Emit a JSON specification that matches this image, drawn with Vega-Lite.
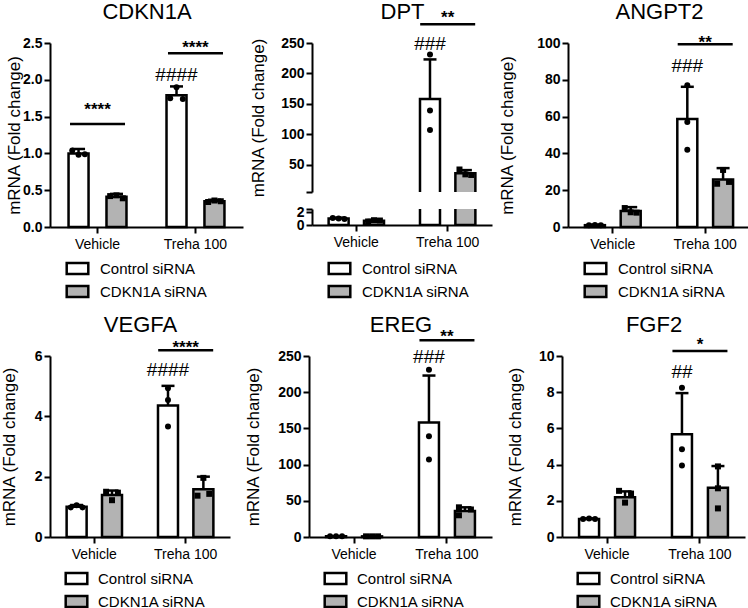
{
"$schema":"https://vega.github.io/schema/vega-lite/v6.json",
"background":"white",
"padding":{"left":0,"top":0,"right":0,"bottom":0},
"datasets":{
"bars":[
{"gene":"CDKN1A","cond":"Vehicle","grp":"Control siRNA","slot":"C2","mean":1.0,"upper":1.06},
{"gene":"CDKN1A","cond":"Vehicle","grp":"CDKN1A siRNA","slot":"K2","mean":0.41,"upper":0.45},
{"gene":"CDKN1A","cond":"Treha 100","grp":"Control siRNA","slot":"C2","mean":1.79,"upper":1.91},
{"gene":"CDKN1A","cond":"Treha 100","grp":"CDKN1A siRNA","slot":"K2","mean":0.35,"upper":0.37},
{"gene":"DPT","cond":"Vehicle","grp":"Control siRNA","slot":"C2","mean":1.0,"upper":1.15},
{"gene":"DPT","cond":"Vehicle","grp":"CDKN1A siRNA","slot":"K2","mean":0.65,"upper":0.78},
{"gene":"DPT","cond":"Treha 100","grp":"Control siRNA","slot":"C2","mean":158,"upper":223},
{"gene":"DPT","cond":"Treha 100","grp":"CDKN1A siRNA","slot":"K2","mean":36,"upper":41},
{"gene":"ANGPT2","cond":"Vehicle","grp":"Control siRNA","slot":"C2","mean":1.0,"upper":1.3},
{"gene":"ANGPT2","cond":"Vehicle","grp":"CDKN1A siRNA","slot":"K2","mean":8.7,"upper":10.8},
{"gene":"ANGPT2","cond":"Treha 100","grp":"Control siRNA","slot":"C2","mean":58.7,"upper":76.2},
{"gene":"ANGPT2","cond":"Treha 100","grp":"CDKN1A siRNA","slot":"K2","mean":25.8,"upper":32},
{"gene":"VEGFA","cond":"Vehicle","grp":"Control siRNA","slot":"C2","mean":1.0,"upper":1.06},
{"gene":"VEGFA","cond":"Vehicle","grp":"CDKN1A siRNA","slot":"K2","mean":1.39,"upper":1.54},
{"gene":"VEGFA","cond":"Treha 100","grp":"Control siRNA","slot":"C2","mean":4.36,"upper":5.01},
{"gene":"VEGFA","cond":"Treha 100","grp":"CDKN1A siRNA","slot":"K2","mean":1.58,"upper":2.0},
{"gene":"EREG","cond":"Vehicle","grp":"Control siRNA","slot":"C2","mean":1.0,"upper":1.1},
{"gene":"EREG","cond":"Vehicle","grp":"CDKN1A siRNA","slot":"K2","mean":0.9,"upper":1.0},
{"gene":"EREG","cond":"Treha 100","grp":"Control siRNA","slot":"C2","mean":158,"upper":223},
{"gene":"EREG","cond":"Treha 100","grp":"CDKN1A siRNA","slot":"K2","mean":36,"upper":41},
{"gene":"FGF2","cond":"Vehicle","grp":"Control siRNA","slot":"C2","mean":1.0,"upper":1.03},
{"gene":"FGF2","cond":"Vehicle","grp":"CDKN1A siRNA","slot":"K2","mean":2.2,"upper":2.52},
{"gene":"FGF2","cond":"Treha 100","grp":"Control siRNA","slot":"C2","mean":5.68,"upper":7.95},
{"gene":"FGF2","cond":"Treha 100","grp":"CDKN1A siRNA","slot":"K2","mean":2.72,"upper":3.92}
],
"points":[
{"gene":"CDKN1A","cond":"Vehicle","grp":"Control siRNA","slot":"C1","val":1.04},
{"gene":"CDKN1A","cond":"Vehicle","grp":"Control siRNA","slot":"C2","val":0.98},
{"gene":"CDKN1A","cond":"Vehicle","grp":"Control siRNA","slot":"C3","val":0.99},
{"gene":"CDKN1A","cond":"Vehicle","grp":"CDKN1A siRNA","slot":"K1","val":0.42},
{"gene":"CDKN1A","cond":"Vehicle","grp":"CDKN1A siRNA","slot":"K2","val":0.43},
{"gene":"CDKN1A","cond":"Vehicle","grp":"CDKN1A siRNA","slot":"K3","val":0.39},
{"gene":"CDKN1A","cond":"Treha 100","grp":"Control siRNA","slot":"C1","val":1.75},
{"gene":"CDKN1A","cond":"Treha 100","grp":"Control siRNA","slot":"C2","val":1.9},
{"gene":"CDKN1A","cond":"Treha 100","grp":"Control siRNA","slot":"C3","val":1.74},
{"gene":"CDKN1A","cond":"Treha 100","grp":"CDKN1A siRNA","slot":"K1","val":0.34},
{"gene":"CDKN1A","cond":"Treha 100","grp":"CDKN1A siRNA","slot":"K2","val":0.36},
{"gene":"CDKN1A","cond":"Treha 100","grp":"CDKN1A siRNA","slot":"K3","val":0.35},
{"gene":"DPT","cond":"Vehicle","grp":"Control siRNA","slot":"C1","val":1.1},
{"gene":"DPT","cond":"Vehicle","grp":"Control siRNA","slot":"C2","val":1.0},
{"gene":"DPT","cond":"Vehicle","grp":"Control siRNA","slot":"C3","val":0.95},
{"gene":"DPT","cond":"Vehicle","grp":"CDKN1A siRNA","slot":"K1","val":0.55},
{"gene":"DPT","cond":"Vehicle","grp":"CDKN1A siRNA","slot":"K2","val":0.75},
{"gene":"DPT","cond":"Vehicle","grp":"CDKN1A siRNA","slot":"K3","val":0.7},
{"gene":"DPT","cond":"Treha 100","grp":"Control siRNA","slot":"C2","val":231},
{"gene":"DPT","cond":"Treha 100","grp":"Control siRNA","slot":"C2","val":139},
{"gene":"DPT","cond":"Treha 100","grp":"Control siRNA","slot":"C2","val":107},
{"gene":"DPT","cond":"Treha 100","grp":"CDKN1A siRNA","slot":"K1","val":42},
{"gene":"DPT","cond":"Treha 100","grp":"CDKN1A siRNA","slot":"K2","val":34},
{"gene":"DPT","cond":"Treha 100","grp":"CDKN1A siRNA","slot":"K3","val":33},
{"gene":"ANGPT2","cond":"Vehicle","grp":"Control siRNA","slot":"C1","val":1.0},
{"gene":"ANGPT2","cond":"Vehicle","grp":"Control siRNA","slot":"C2","val":1.1},
{"gene":"ANGPT2","cond":"Vehicle","grp":"Control siRNA","slot":"C3","val":0.9},
{"gene":"ANGPT2","cond":"Vehicle","grp":"CDKN1A siRNA","slot":"K1","val":10.3},
{"gene":"ANGPT2","cond":"Vehicle","grp":"CDKN1A siRNA","slot":"K2","val":8.0},
{"gene":"ANGPT2","cond":"Vehicle","grp":"CDKN1A siRNA","slot":"K3","val":7.8},
{"gene":"ANGPT2","cond":"Treha 100","grp":"Control siRNA","slot":"C2","val":77},
{"gene":"ANGPT2","cond":"Treha 100","grp":"Control siRNA","slot":"C2","val":57},
{"gene":"ANGPT2","cond":"Treha 100","grp":"Control siRNA","slot":"C2","val":42},
{"gene":"ANGPT2","cond":"Treha 100","grp":"CDKN1A siRNA","slot":"K1","val":23.5},
{"gene":"ANGPT2","cond":"Treha 100","grp":"CDKN1A siRNA","slot":"K2","val":31},
{"gene":"ANGPT2","cond":"Treha 100","grp":"CDKN1A siRNA","slot":"K3","val":24.5},
{"gene":"VEGFA","cond":"Vehicle","grp":"Control siRNA","slot":"C1","val":0.98},
{"gene":"VEGFA","cond":"Vehicle","grp":"Control siRNA","slot":"C2","val":1.05},
{"gene":"VEGFA","cond":"Vehicle","grp":"Control siRNA","slot":"C3","val":0.98},
{"gene":"VEGFA","cond":"Vehicle","grp":"CDKN1A siRNA","slot":"K1","val":1.5},
{"gene":"VEGFA","cond":"Vehicle","grp":"CDKN1A siRNA","slot":"K2","val":1.22},
{"gene":"VEGFA","cond":"Vehicle","grp":"CDKN1A siRNA","slot":"K3","val":1.47},
{"gene":"VEGFA","cond":"Treha 100","grp":"Control siRNA","slot":"C2","val":4.93},
{"gene":"VEGFA","cond":"Treha 100","grp":"Control siRNA","slot":"C2","val":4.54},
{"gene":"VEGFA","cond":"Treha 100","grp":"Control siRNA","slot":"C2","val":3.66},
{"gene":"VEGFA","cond":"Treha 100","grp":"CDKN1A siRNA","slot":"K1","val":1.37},
{"gene":"VEGFA","cond":"Treha 100","grp":"CDKN1A siRNA","slot":"K2","val":1.96},
{"gene":"VEGFA","cond":"Treha 100","grp":"CDKN1A siRNA","slot":"K3","val":1.43},
{"gene":"EREG","cond":"Vehicle","grp":"Control siRNA","slot":"C1","val":1.0},
{"gene":"EREG","cond":"Vehicle","grp":"Control siRNA","slot":"C2","val":1.1},
{"gene":"EREG","cond":"Vehicle","grp":"Control siRNA","slot":"C3","val":0.9},
{"gene":"EREG","cond":"Vehicle","grp":"CDKN1A siRNA","slot":"K1","val":0.9},
{"gene":"EREG","cond":"Vehicle","grp":"CDKN1A siRNA","slot":"K2","val":0.9},
{"gene":"EREG","cond":"Vehicle","grp":"CDKN1A siRNA","slot":"K3","val":0.9},
{"gene":"EREG","cond":"Treha 100","grp":"Control siRNA","slot":"C2","val":231},
{"gene":"EREG","cond":"Treha 100","grp":"Control siRNA","slot":"C2","val":139},
{"gene":"EREG","cond":"Treha 100","grp":"Control siRNA","slot":"C2","val":107},
{"gene":"EREG","cond":"Treha 100","grp":"CDKN1A siRNA","slot":"K1","val":41},
{"gene":"EREG","cond":"Treha 100","grp":"CDKN1A siRNA","slot":"K1","val":30},
{"gene":"EREG","cond":"Treha 100","grp":"CDKN1A siRNA","slot":"K3","val":38},
{"gene":"FGF2","cond":"Vehicle","grp":"Control siRNA","slot":"C1","val":1.0},
{"gene":"FGF2","cond":"Vehicle","grp":"Control siRNA","slot":"C2","val":1.02},
{"gene":"FGF2","cond":"Vehicle","grp":"Control siRNA","slot":"C3","val":1.0},
{"gene":"FGF2","cond":"Vehicle","grp":"CDKN1A siRNA","slot":"K1","val":2.55},
{"gene":"FGF2","cond":"Vehicle","grp":"CDKN1A siRNA","slot":"K2","val":1.9},
{"gene":"FGF2","cond":"Vehicle","grp":"CDKN1A siRNA","slot":"K3","val":2.4},
{"gene":"FGF2","cond":"Treha 100","grp":"Control siRNA","slot":"C2","val":8.25},
{"gene":"FGF2","cond":"Treha 100","grp":"Control siRNA","slot":"C2","val":4.85},
{"gene":"FGF2","cond":"Treha 100","grp":"Control siRNA","slot":"C2","val":3.95},
{"gene":"FGF2","cond":"Treha 100","grp":"CDKN1A siRNA","slot":"K2","val":3.9},
{"gene":"FGF2","cond":"Treha 100","grp":"CDKN1A siRNA","slot":"K2","val":2.69},
{"gene":"FGF2","cond":"Treha 100","grp":"CDKN1A siRNA","slot":"K2","val":1.58}
],
"ann":[
{"gene":"CDKN1A","cond":"Vehicle","slot":"C2","kind":"line","y":1.40,"label":""},
{"gene":"CDKN1A","cond":"Vehicle","slot":"C2","kind":"star","y":1.65,"label":"****"},
{"gene":"CDKN1A","cond":"Treha 100","slot":"C2","kind":"line","y":2.36,"label":""},
{"gene":"CDKN1A","cond":"Treha 100","slot":"C2","kind":"star","y":2.50,"label":"****"},
{"gene":"CDKN1A","cond":"Treha 100","slot":"C2","kind":"hash","y":2.08,"label":"####"},
{"gene":"DPT","cond":"Treha 100","slot":"C2","kind":"line","y":281,"label":""},
{"gene":"DPT","cond":"Treha 100","slot":"C2","kind":"star","y":298.6,"label":"**"},
{"gene":"DPT","cond":"Treha 100","slot":"C2","kind":"hash","y":250,"label":"###"},
{"gene":"ANGPT2","cond":"Treha 100","slot":"C2","kind":"line","y":99.3,"label":""},
{"gene":"ANGPT2","cond":"Treha 100","slot":"C2","kind":"star","y":102.4,"label":"**"},
{"gene":"ANGPT2","cond":"Treha 100","slot":"C2","kind":"hash","y":87.6,"label":"###"},
{"gene":"VEGFA","cond":"Treha 100","slot":"C2","kind":"line","y":6.19,"label":""},
{"gene":"VEGFA","cond":"Treha 100","slot":"C2","kind":"star","y":6.43,"label":"****"},
{"gene":"VEGFA","cond":"Treha 100","slot":"C2","kind":"hash","y":5.57,"label":"####"},
{"gene":"EREG","cond":"Treha 100","slot":"C2","kind":"line","y":271.6,"label":""},
{"gene":"EREG","cond":"Treha 100","slot":"C2","kind":"star","y":283,"label":"**"},
{"gene":"EREG","cond":"Treha 100","slot":"C2","kind":"hash","y":249,"label":"###"},
{"gene":"FGF2","cond":"Treha 100","slot":"C2","kind":"line","y":10.28,"label":""},
{"gene":"FGF2","cond":"Treha 100","slot":"C2","kind":"star","y":10.89,"label":"*"},
{"gene":"FGF2","cond":"Treha 100","slot":"C2","kind":"hash","y":9.15,"label":"##"}
]
},
"resolve":{"scale":{"fill":"independent","xOffset":"independent"},"legend":{"fill":"independent"}},
"spacing":11,
"vconcat":[
{"spacing":6,
"resolve":{"scale":{"fill":"independent","xOffset":"independent"},"legend":{"fill":"independent"}},
"hconcat":[
{"width":193,"height":184,
"resolve":{"axis":{"x":"independent"}},
"encoding":{"x":{"field":"cond","type":"nominal","scale":{"domain":["Vehicle","Treha 100"],"paddingInner":0.29,"paddingOuter":0.13},"axis":{"title":null,"labelAngle":0}}},
"layer":[
{"data":{"name":"bars"},"transform":[{"filter":"datum.gene==='CDKN1A'"}],"mark":{"type":"bar","width":20,"stroke":"black","strokeWidth":2.5},
"encoding":{"xOffset":{"field":"slot","type":"nominal","scale":{"domain":["C1","C2","C3","g1","g2","g3","K1","K2","K3"],"paddingInner":0,"paddingOuter":1}},
"y":{"field":"mean","type":"quantitative","scale":{"domain":[0,2.5],"nice":false},"axis":{"values":[0,0.5,1,1.5,2,2.5],"format":".1f","title":"mRNA (Fold change)","labelFontWeight":"bold","labelFontSize":14,"titleFontSize":17,"titleFontWeight":"normal","titlePadding":-1}},
"fill":{"field":"grp","type":"nominal","scale":{"domain":["Control siRNA","CDKN1A siRNA"],"range":["#ffffff","#b3b3b3"]},"legend":{"orient":"none","legendX":17,"legendY":215,"title":null,"symbolType":"M-1.2,-0.6H1.2V0.6H-1.2Z","symbolSize":324}}}},
{"data":{"name":"bars"},"transform":[{"filter":"datum.gene==='CDKN1A'"}],"mark":{"type":"bar","width":2.5,"color":"black"},
"encoding":{"x":{"field":"cond","type":"nominal","scale":{"domain":["Vehicle","Treha 100"],"paddingInner":0.29,"paddingOuter":0.13},"axis":null},
"xOffset":{"field":"slot","type":"nominal","scale":{"domain":["C1","C2","C3","g1","g2","g3","K1","K2","K3"],"paddingInner":0,"paddingOuter":1}},
"y":{"field":"mean","type":"quantitative","scale":{"domain":[0,2.5],"nice":false},"axis":{"values":[0,0.5,1,1.5,2,2.5],"format":".1f","title":"mRNA (Fold change)","labelFontWeight":"bold","labelFontSize":14,"titleFontSize":17,"titleFontWeight":"normal","titlePadding":-1}},"y2":{"field":"upper"}}},
{"data":{"name":"bars"},"transform":[{"filter":"datum.gene==='CDKN1A'"}],"mark":{"type":"tick","size":13,"thickness":2.5,"color":"black","opacity":1},
"encoding":{"x":{"field":"cond","type":"nominal","scale":{"domain":["Vehicle","Treha 100"],"paddingInner":0.29,"paddingOuter":0.13},"axis":null},
"xOffset":{"field":"slot","type":"nominal","scale":{"domain":["C1","C2","C3","g1","g2","g3","K1","K2","K3"],"paddingInner":0,"paddingOuter":1}},
"y":{"field":"upper","type":"quantitative","scale":{"domain":[0,2.5],"nice":false},"axis":{"values":[0,0.5,1,1.5,2,2.5],"format":".1f","title":"mRNA (Fold change)","labelFontWeight":"bold","labelFontSize":14,"titleFontSize":17,"titleFontWeight":"normal","titlePadding":-1}}}},
{"data":{"name":"points"},"transform":[{"filter":"datum.gene==='CDKN1A' && datum.grp==='Control siRNA'"}],"mark":{"type":"circle","color":"black","size":36,"opacity":1},
"encoding":{"x":{"field":"cond","type":"nominal","scale":{"domain":["Vehicle","Treha 100"],"paddingInner":0.29,"paddingOuter":0.13},"axis":null},
"xOffset":{"field":"slot","type":"nominal","scale":{"domain":["C1","C2","C3","g1","g2","g3","K1","K2","K3"],"paddingInner":0,"paddingOuter":1}},
"y":{"field":"val","type":"quantitative","scale":{"domain":[0,2.5],"nice":false},"axis":{"values":[0,0.5,1,1.5,2,2.5],"format":".1f","title":"mRNA (Fold change)","labelFontWeight":"bold","labelFontSize":14,"titleFontSize":17,"titleFontWeight":"normal","titlePadding":-1}}}},
{"data":{"name":"points"},"transform":[{"filter":"datum.gene==='CDKN1A' && datum.grp==='CDKN1A siRNA'"}],"mark":{"type":"square","color":"black","size":36,"opacity":1},
"encoding":{"x":{"field":"cond","type":"nominal","scale":{"domain":["Vehicle","Treha 100"],"paddingInner":0.29,"paddingOuter":0.13},"axis":null},
"xOffset":{"field":"slot","type":"nominal","scale":{"domain":["C1","C2","C3","g1","g2","g3","K1","K2","K3"],"paddingInner":0,"paddingOuter":1}},
"y":{"field":"val","type":"quantitative","scale":{"domain":[0,2.5],"nice":false},"axis":{"values":[0,0.5,1,1.5,2,2.5],"format":".1f","title":"mRNA (Fold change)","labelFontWeight":"bold","labelFontSize":14,"titleFontSize":17,"titleFontWeight":"normal","titlePadding":-1}}}},
{"data":{"name":"ann"},"transform":[{"filter":"datum.gene==='CDKN1A' && datum.kind==='line'"}],"mark":{"type":"tick","size":55,"thickness":2.5,"color":"black","opacity":1},
"encoding":{"x":{"field":"cond","type":"nominal","scale":{"domain":["Vehicle","Treha 100"],"paddingInner":0.29,"paddingOuter":0.13},"axis":null},
"y":{"field":"y","type":"quantitative","scale":{"domain":[0,2.5],"nice":false},"axis":{"values":[0,0.5,1,1.5,2,2.5],"format":".1f","title":"mRNA (Fold change)","labelFontWeight":"bold","labelFontSize":14,"titleFontSize":17,"titleFontWeight":"normal","titlePadding":-1}}}},
{"data":{"name":"ann"},"transform":[{"filter":"datum.gene==='CDKN1A' && datum.kind==='star'"}],"mark":{"type":"text","fontSize":17,"fontWeight":"bold","baseline":"alphabetic","dy":9.8,"font":"Liberation Sans","color":"black"},
"encoding":{"x":{"field":"cond","type":"nominal","scale":{"domain":["Vehicle","Treha 100"],"paddingInner":0.29,"paddingOuter":0.13},"axis":null},
"y":{"field":"y","type":"quantitative","scale":{"domain":[0,2.5],"nice":false},"axis":{"values":[0,0.5,1,1.5,2,2.5],"format":".1f","title":"mRNA (Fold change)","labelFontWeight":"bold","labelFontSize":14,"titleFontSize":17,"titleFontWeight":"normal","titlePadding":-1}},"text":{"field":"label"}}},
{"data":{"name":"ann"},"transform":[{"filter":"datum.gene==='CDKN1A' && datum.kind==='hash'"}],"mark":{"type":"text","fontSize":19,"baseline":"alphabetic","dy":6.6,"font":"Liberation Sans","color":"black"},
"encoding":{"x":{"field":"cond","type":"nominal","scale":{"domain":["Vehicle","Treha 100"],"paddingInner":0.29,"paddingOuter":0.13},"axis":{"orient":"top","title":"CDKN1A","domain":false,"ticks":false,"labels":false,"titleFontSize":22,"titleFontWeight":"normal","titlePadding":20,"titleFont":"Liberation Sans","titleColor":"black"}},
"xOffset":{"field":"slot","type":"nominal","scale":{"domain":["C1","C2","C3","g1","g2","g3","K1","K2","K3"],"paddingInner":0,"paddingOuter":1}},
"y":{"field":"y","type":"quantitative","scale":{"domain":[0,2.5],"nice":false},"axis":{"values":[0,0.5,1,1.5,2,2.5],"format":".1f","title":"mRNA (Fold change)","labelFontWeight":"bold","labelFontSize":14,"titleFontSize":17,"titleFontWeight":"normal","titlePadding":-1}},"text":{"field":"label"}}}
]},
{"spacing":7,
"resolve":{"scale":{"fill":"independent","xOffset":"independent"},"legend":{"fill":"independent"}},
"vconcat":[
{"width":180,"height":149,
"resolve":{"axis":{"x":"independent"}},
"encoding":{"x":{"field":"cond","type":"nominal","scale":{"domain":["Vehicle","Treha 100"],"paddingInner":0.29,"paddingOuter":0.13},"axis":null}},
"layer":[
{"data":{"name":"bars"},"transform":[{"filter":"datum.gene==='DPT' && datum.mean > 5"}],"mark":{"type":"bar","width":20,"stroke":"black","strokeWidth":2.5,"clip":true},
"encoding":{"xOffset":{"field":"slot","type":"nominal","scale":{"domain":["C1","C2","C3","g1","g2","g3","K1","K2","K3"],"paddingInner":0,"paddingOuter":1}},
"y":{"field":"mean","type":"quantitative","scale":{"domain":[5,250],"nice":false,"zero":false},"axis":{"values":[5,50,100,150,200,250],"labelExpr":"datum.value == 5 ? '' : datum.label","title":"mRNA (Fold change)","labelFontWeight":"bold","labelFontSize":14,"titleFontSize":17,"titleFontWeight":"normal","titlePadding":13.6}},
"fill":{"field":"grp","type":"nominal","scale":{"domain":["Control siRNA","CDKN1A siRNA"],"range":["#ffffff","#b3b3b3"]},"legend":null}}},
{"data":{"name":"bars"},"transform":[{"filter":"datum.gene==='DPT' && datum.mean > 5"}],"mark":{"type":"bar","width":2.5,"color":"black","clip":true},
"encoding":{"xOffset":{"field":"slot","type":"nominal","scale":{"domain":["C1","C2","C3","g1","g2","g3","K1","K2","K3"],"paddingInner":0,"paddingOuter":1}},
"y":{"field":"mean","type":"quantitative","scale":{"domain":[5,250],"nice":false,"zero":false},"axis":{"values":[5,50,100,150,200,250],"labelExpr":"datum.value == 5 ? '' : datum.label","title":"mRNA (Fold change)","labelFontWeight":"bold","labelFontSize":14,"titleFontSize":17,"titleFontWeight":"normal","titlePadding":13.6}},"y2":{"field":"upper"}}},
{"data":{"name":"bars"},"transform":[{"filter":"datum.gene==='DPT' && datum.mean > 5"}],"mark":{"type":"tick","size":13,"thickness":2.5,"color":"black","opacity":1},
"encoding":{"xOffset":{"field":"slot","type":"nominal","scale":{"domain":["C1","C2","C3","g1","g2","g3","K1","K2","K3"],"paddingInner":0,"paddingOuter":1}},
"y":{"field":"upper","type":"quantitative","scale":{"domain":[5,250],"nice":false,"zero":false},"axis":{"values":[5,50,100,150,200,250],"labelExpr":"datum.value == 5 ? '' : datum.label","title":"mRNA (Fold change)","labelFontWeight":"bold","labelFontSize":14,"titleFontSize":17,"titleFontWeight":"normal","titlePadding":13.6}}}},
{"data":{"name":"points"},"transform":[{"filter":"datum.gene==='DPT' && datum.grp==='Control siRNA' && datum.val > 5"}],"mark":{"type":"circle","color":"black","size":36,"opacity":1},
"encoding":{"xOffset":{"field":"slot","type":"nominal","scale":{"domain":["C1","C2","C3","g1","g2","g3","K1","K2","K3"],"paddingInner":0,"paddingOuter":1}},
"y":{"field":"val","type":"quantitative","scale":{"domain":[5,250],"nice":false,"zero":false},"axis":{"values":[5,50,100,150,200,250],"labelExpr":"datum.value == 5 ? '' : datum.label","title":"mRNA (Fold change)","labelFontWeight":"bold","labelFontSize":14,"titleFontSize":17,"titleFontWeight":"normal","titlePadding":13.6}}}},
{"data":{"name":"points"},"transform":[{"filter":"datum.gene==='DPT' && datum.grp==='CDKN1A siRNA' && datum.val > 5"}],"mark":{"type":"square","color":"black","size":36,"opacity":1},
"encoding":{"xOffset":{"field":"slot","type":"nominal","scale":{"domain":["C1","C2","C3","g1","g2","g3","K1","K2","K3"],"paddingInner":0,"paddingOuter":1}},
"y":{"field":"val","type":"quantitative","scale":{"domain":[5,250],"nice":false,"zero":false},"axis":{"values":[5,50,100,150,200,250],"labelExpr":"datum.value == 5 ? '' : datum.label","title":"mRNA (Fold change)","labelFontWeight":"bold","labelFontSize":14,"titleFontSize":17,"titleFontWeight":"normal","titlePadding":13.6}}}},
{"data":{"name":"ann"},"transform":[{"filter":"datum.gene==='DPT' && datum.kind==='line'"}],"mark":{"type":"tick","size":55,"thickness":2.5,"color":"black","opacity":1},
"encoding":{"y":{"field":"y","type":"quantitative","scale":{"domain":[5,250],"nice":false,"zero":false},"axis":{"values":[5,50,100,150,200,250],"labelExpr":"datum.value == 5 ? '' : datum.label","title":"mRNA (Fold change)","labelFontWeight":"bold","labelFontSize":14,"titleFontSize":17,"titleFontWeight":"normal","titlePadding":13.6}}}},
{"data":{"name":"ann"},"transform":[{"filter":"datum.gene==='DPT' && datum.kind==='star'"}],"mark":{"type":"text","fontSize":17,"fontWeight":"bold","baseline":"alphabetic","dy":9.8,"font":"Liberation Sans","color":"black"},
"encoding":{"y":{"field":"y","type":"quantitative","scale":{"domain":[5,250],"nice":false,"zero":false},"axis":{"values":[5,50,100,150,200,250],"labelExpr":"datum.value == 5 ? '' : datum.label","title":"mRNA (Fold change)","labelFontWeight":"bold","labelFontSize":14,"titleFontSize":17,"titleFontWeight":"normal","titlePadding":13.6}},"text":{"field":"label"}}},
{"data":{"name":"ann"},"transform":[{"filter":"datum.gene==='DPT' && datum.kind==='hash'"}],"mark":{"type":"text","fontSize":19,"baseline":"alphabetic","dy":6.6,"font":"Liberation Sans","color":"black"},
"encoding":{"x":{"field":"cond","type":"nominal","scale":{"domain":["Vehicle","Treha 100"],"paddingInner":0.29,"paddingOuter":0.13},"axis":{"orient":"top","title":"DPT","domain":false,"ticks":false,"labels":false,"titleFontSize":22,"titleFontWeight":"normal","titlePadding":20,"titleFont":"Liberation Sans","titleColor":"black"}},
"xOffset":{"field":"slot","type":"nominal","scale":{"domain":["C1","C2","C3","g1","g2","g3","K1","K2","K3"],"paddingInner":0,"paddingOuter":1}},
"y":{"field":"y","type":"quantitative","scale":{"domain":[5,250],"nice":false,"zero":false},"axis":{"values":[5,50,100,150,200,250],"labelExpr":"datum.value == 5 ? '' : datum.label","title":"mRNA (Fold change)","labelFontWeight":"bold","labelFontSize":14,"titleFontSize":17,"titleFontWeight":"normal","titlePadding":13.6}},"text":{"field":"label"}}}
]},
{"width":180,"height":16,
"resolve":{"axis":{"x":"independent"}},
"encoding":{"x":{"field":"cond","type":"nominal","scale":{"domain":["Vehicle","Treha 100"],"paddingInner":0.29,"paddingOuter":0.13},"axis":{"title":null,"labelAngle":0}}},
"layer":[
{"data":{"name":"bars"},"transform":[{"filter":"datum.gene==='DPT'"}],"mark":{"type":"bar","width":20,"stroke":"black","strokeWidth":2.5,"clip":true},
"encoding":{"xOffset":{"field":"slot","type":"nominal","scale":{"domain":["C1","C2","C3","g1","g2","g3","K1","K2","K3"],"paddingInner":0,"paddingOuter":1}},
"y":{"field":"mean","type":"quantitative","scale":{"domain":[0,2.5],"nice":false},"axis":{"values":[0,2,2.5],"format":"d","labelExpr":"datum.value == 2.5 ? '' : datum.label","title":null,"labelFontWeight":"bold","labelFontSize":14}},
"fill":{"field":"grp","type":"nominal","scale":{"domain":["Control siRNA","CDKN1A siRNA"],"range":["#ffffff","#b3b3b3"]},"legend":{"orient":"none","legendX":17,"legendY":49,"title":null,"symbolType":"M-1.2,-0.6H1.2V0.6H-1.2Z","symbolSize":324}}}},
{"data":{"name":"bars"},"transform":[{"filter":"datum.gene==='DPT' && datum.cond==='Vehicle'"}],"mark":{"type":"bar","width":2.5,"color":"black"},
"encoding":{"x":{"field":"cond","type":"nominal","scale":{"domain":["Vehicle","Treha 100"],"paddingInner":0.29,"paddingOuter":0.13},"axis":null},
"xOffset":{"field":"slot","type":"nominal","scale":{"domain":["C1","C2","C3","g1","g2","g3","K1","K2","K3"],"paddingInner":0,"paddingOuter":1}},
"y":{"field":"mean","type":"quantitative","scale":{"domain":[0,2.5],"nice":false},"axis":{"values":[0,2,2.5],"format":"d","labelExpr":"datum.value == 2.5 ? '' : datum.label","title":null,"labelFontWeight":"bold","labelFontSize":14}},"y2":{"field":"upper"}}},
{"data":{"name":"bars"},"transform":[{"filter":"datum.gene==='DPT' && datum.cond==='Vehicle'"}],"mark":{"type":"tick","size":13,"thickness":2.5,"color":"black","opacity":1},
"encoding":{"x":{"field":"cond","type":"nominal","scale":{"domain":["Vehicle","Treha 100"],"paddingInner":0.29,"paddingOuter":0.13},"axis":null},
"xOffset":{"field":"slot","type":"nominal","scale":{"domain":["C1","C2","C3","g1","g2","g3","K1","K2","K3"],"paddingInner":0,"paddingOuter":1}},
"y":{"field":"upper","type":"quantitative","scale":{"domain":[0,2.5],"nice":false},"axis":{"values":[0,2,2.5],"format":"d","labelExpr":"datum.value == 2.5 ? '' : datum.label","title":null,"labelFontWeight":"bold","labelFontSize":14}}}},
{"data":{"name":"points"},"transform":[{"filter":"datum.gene==='DPT' && datum.grp==='Control siRNA' && datum.val < 2.5"}],"mark":{"type":"circle","color":"black","size":36,"opacity":1},
"encoding":{"x":{"field":"cond","type":"nominal","scale":{"domain":["Vehicle","Treha 100"],"paddingInner":0.29,"paddingOuter":0.13},"axis":null},
"xOffset":{"field":"slot","type":"nominal","scale":{"domain":["C1","C2","C3","g1","g2","g3","K1","K2","K3"],"paddingInner":0,"paddingOuter":1}},
"y":{"field":"val","type":"quantitative","scale":{"domain":[0,2.5],"nice":false},"axis":{"values":[0,2,2.5],"format":"d","labelExpr":"datum.value == 2.5 ? '' : datum.label","title":null,"labelFontWeight":"bold","labelFontSize":14}}}},
{"data":{"name":"points"},"transform":[{"filter":"datum.gene==='DPT' && datum.grp==='CDKN1A siRNA' && datum.val < 2.5"}],"mark":{"type":"square","color":"black","size":36,"opacity":1},
"encoding":{"x":{"field":"cond","type":"nominal","scale":{"domain":["Vehicle","Treha 100"],"paddingInner":0.29,"paddingOuter":0.13},"axis":null},
"xOffset":{"field":"slot","type":"nominal","scale":{"domain":["C1","C2","C3","g1","g2","g3","K1","K2","K3"],"paddingInner":0,"paddingOuter":1}},
"y":{"field":"val","type":"quantitative","scale":{"domain":[0,2.5],"nice":false},"axis":{"values":[0,2,2.5],"format":"d","labelExpr":"datum.value == 2.5 ? '' : datum.label","title":null,"labelFontWeight":"bold","labelFontSize":14}}}}
]}
]},
{"width":182,"height":184,
"resolve":{"axis":{"x":"independent"}},
"encoding":{"x":{"field":"cond","type":"nominal","scale":{"domain":["Vehicle","Treha 100"],"paddingInner":0.29,"paddingOuter":0.13},"axis":{"title":null,"labelAngle":0}}},
"layer":[
{"data":{"name":"bars"},"transform":[{"filter":"datum.gene==='ANGPT2'"}],"mark":{"type":"bar","width":20,"stroke":"black","strokeWidth":2.5},
"encoding":{"xOffset":{"field":"slot","type":"nominal","scale":{"domain":["C1","C2","C3","g1","g2","g3","K1","K2","K3"],"paddingInner":0,"paddingOuter":1}},
"y":{"field":"mean","type":"quantitative","scale":{"domain":[0,100],"nice":false},"axis":{"values":[0,20,40,60,80,100],"title":"mRNA (Fold change)","labelFontWeight":"bold","labelFontSize":14,"titleFontSize":17,"titleFontWeight":"normal","titlePadding":20.6}},
"fill":{"field":"grp","type":"nominal","scale":{"domain":["Control siRNA","CDKN1A siRNA"],"range":["#ffffff","#b3b3b3"]},"legend":{"orient":"none","legendX":17,"legendY":215,"title":null,"symbolType":"M-1.2,-0.6H1.2V0.6H-1.2Z","symbolSize":324}}}},
{"data":{"name":"bars"},"transform":[{"filter":"datum.gene==='ANGPT2'"}],"mark":{"type":"bar","width":2.5,"color":"black"},
"encoding":{"x":{"field":"cond","type":"nominal","scale":{"domain":["Vehicle","Treha 100"],"paddingInner":0.29,"paddingOuter":0.13},"axis":null},
"xOffset":{"field":"slot","type":"nominal","scale":{"domain":["C1","C2","C3","g1","g2","g3","K1","K2","K3"],"paddingInner":0,"paddingOuter":1}},
"y":{"field":"mean","type":"quantitative","scale":{"domain":[0,100],"nice":false},"axis":{"values":[0,20,40,60,80,100],"title":"mRNA (Fold change)","labelFontWeight":"bold","labelFontSize":14,"titleFontSize":17,"titleFontWeight":"normal","titlePadding":20.6}},"y2":{"field":"upper"}}},
{"data":{"name":"bars"},"transform":[{"filter":"datum.gene==='ANGPT2'"}],"mark":{"type":"tick","size":13,"thickness":2.5,"color":"black","opacity":1},
"encoding":{"x":{"field":"cond","type":"nominal","scale":{"domain":["Vehicle","Treha 100"],"paddingInner":0.29,"paddingOuter":0.13},"axis":null},
"xOffset":{"field":"slot","type":"nominal","scale":{"domain":["C1","C2","C3","g1","g2","g3","K1","K2","K3"],"paddingInner":0,"paddingOuter":1}},
"y":{"field":"upper","type":"quantitative","scale":{"domain":[0,100],"nice":false},"axis":{"values":[0,20,40,60,80,100],"title":"mRNA (Fold change)","labelFontWeight":"bold","labelFontSize":14,"titleFontSize":17,"titleFontWeight":"normal","titlePadding":20.6}}}},
{"data":{"name":"points"},"transform":[{"filter":"datum.gene==='ANGPT2' && datum.grp==='Control siRNA'"}],"mark":{"type":"circle","color":"black","size":36,"opacity":1},
"encoding":{"x":{"field":"cond","type":"nominal","scale":{"domain":["Vehicle","Treha 100"],"paddingInner":0.29,"paddingOuter":0.13},"axis":null},
"xOffset":{"field":"slot","type":"nominal","scale":{"domain":["C1","C2","C3","g1","g2","g3","K1","K2","K3"],"paddingInner":0,"paddingOuter":1}},
"y":{"field":"val","type":"quantitative","scale":{"domain":[0,100],"nice":false},"axis":{"values":[0,20,40,60,80,100],"title":"mRNA (Fold change)","labelFontWeight":"bold","labelFontSize":14,"titleFontSize":17,"titleFontWeight":"normal","titlePadding":20.6}}}},
{"data":{"name":"points"},"transform":[{"filter":"datum.gene==='ANGPT2' && datum.grp==='CDKN1A siRNA'"}],"mark":{"type":"square","color":"black","size":36,"opacity":1},
"encoding":{"x":{"field":"cond","type":"nominal","scale":{"domain":["Vehicle","Treha 100"],"paddingInner":0.29,"paddingOuter":0.13},"axis":null},
"xOffset":{"field":"slot","type":"nominal","scale":{"domain":["C1","C2","C3","g1","g2","g3","K1","K2","K3"],"paddingInner":0,"paddingOuter":1}},
"y":{"field":"val","type":"quantitative","scale":{"domain":[0,100],"nice":false},"axis":{"values":[0,20,40,60,80,100],"title":"mRNA (Fold change)","labelFontWeight":"bold","labelFontSize":14,"titleFontSize":17,"titleFontWeight":"normal","titlePadding":20.6}}}},
{"data":{"name":"ann"},"transform":[{"filter":"datum.gene==='ANGPT2' && datum.kind==='line'"}],"mark":{"type":"tick","size":55,"thickness":2.5,"color":"black","opacity":1},
"encoding":{"x":{"field":"cond","type":"nominal","scale":{"domain":["Vehicle","Treha 100"],"paddingInner":0.29,"paddingOuter":0.13},"axis":null},
"y":{"field":"y","type":"quantitative","scale":{"domain":[0,100],"nice":false},"axis":{"values":[0,20,40,60,80,100],"title":"mRNA (Fold change)","labelFontWeight":"bold","labelFontSize":14,"titleFontSize":17,"titleFontWeight":"normal","titlePadding":20.6}}}},
{"data":{"name":"ann"},"transform":[{"filter":"datum.gene==='ANGPT2' && datum.kind==='star'"}],"mark":{"type":"text","fontSize":17,"fontWeight":"bold","baseline":"alphabetic","dy":9.8,"font":"Liberation Sans","color":"black"},
"encoding":{"x":{"field":"cond","type":"nominal","scale":{"domain":["Vehicle","Treha 100"],"paddingInner":0.29,"paddingOuter":0.13},"axis":null},
"y":{"field":"y","type":"quantitative","scale":{"domain":[0,100],"nice":false},"axis":{"values":[0,20,40,60,80,100],"title":"mRNA (Fold change)","labelFontWeight":"bold","labelFontSize":14,"titleFontSize":17,"titleFontWeight":"normal","titlePadding":20.6}},"text":{"field":"label"}}},
{"data":{"name":"ann"},"transform":[{"filter":"datum.gene==='ANGPT2' && datum.kind==='hash'"}],"mark":{"type":"text","fontSize":19,"baseline":"alphabetic","dy":6.6,"font":"Liberation Sans","color":"black"},
"encoding":{"x":{"field":"cond","type":"nominal","scale":{"domain":["Vehicle","Treha 100"],"paddingInner":0.29,"paddingOuter":0.13},"axis":{"orient":"top","title":"ANGPT2","domain":false,"ticks":false,"labels":false,"titleFontSize":22,"titleFontWeight":"normal","titlePadding":20,"titleFont":"Liberation Sans","titleColor":"black"}},
"xOffset":{"field":"slot","type":"nominal","scale":{"domain":["C1","C2","C3","g1","g2","g3","K1","K2","K3"],"paddingInner":0,"paddingOuter":1}},
"y":{"field":"y","type":"quantitative","scale":{"domain":[0,100],"nice":false},"axis":{"values":[0,20,40,60,80,100],"title":"mRNA (Fold change)","labelFontWeight":"bold","labelFontSize":14,"titleFontSize":17,"titleFontWeight":"normal","titlePadding":20.6}},"text":{"field":"label"}}}
]}
]},
{"spacing":14,
"resolve":{"scale":{"fill":"independent","xOffset":"independent"},"legend":{"fill":"independent"}},
"hconcat":[
{"width":180,"height":181,
"resolve":{"axis":{"x":"independent"}},
"encoding":{"x":{"field":"cond","type":"nominal","scale":{"domain":["Vehicle","Treha 100"],"paddingInner":0.29,"paddingOuter":0.13},"axis":{"title":null,"labelAngle":0}}},
"layer":[
{"data":{"name":"bars"},"transform":[{"filter":"datum.gene==='VEGFA'"}],"mark":{"type":"bar","width":20,"stroke":"black","strokeWidth":2.5},
"encoding":{"xOffset":{"field":"slot","type":"nominal","scale":{"domain":["C1","C2","C3","g1","g2","g3","K1","K2","K3"],"paddingInner":0,"paddingOuter":1}},
"y":{"field":"mean","type":"quantitative","scale":{"domain":[0,6],"nice":false},"axis":{"values":[0,2,4,6],"title":"mRNA (Fold change)","labelFontWeight":"bold","labelFontSize":14,"titleFontSize":17,"titleFontWeight":"normal","titlePadding":16}},
"fill":{"field":"grp","type":"nominal","scale":{"domain":["Control siRNA","CDKN1A siRNA"],"range":["#ffffff","#b3b3b3"]},"legend":{"orient":"none","legendX":17,"legendY":213,"title":null,"symbolType":"M-1.35,-0.68H1.35V0.68H-1.35Z","symbolSize":256}}}},
{"data":{"name":"bars"},"transform":[{"filter":"datum.gene==='VEGFA'"}],"mark":{"type":"bar","width":2.5,"color":"black"},
"encoding":{"x":{"field":"cond","type":"nominal","scale":{"domain":["Vehicle","Treha 100"],"paddingInner":0.29,"paddingOuter":0.13},"axis":null},
"xOffset":{"field":"slot","type":"nominal","scale":{"domain":["C1","C2","C3","g1","g2","g3","K1","K2","K3"],"paddingInner":0,"paddingOuter":1}},
"y":{"field":"mean","type":"quantitative","scale":{"domain":[0,6],"nice":false},"axis":{"values":[0,2,4,6],"title":"mRNA (Fold change)","labelFontWeight":"bold","labelFontSize":14,"titleFontSize":17,"titleFontWeight":"normal","titlePadding":16}},"y2":{"field":"upper"}}},
{"data":{"name":"bars"},"transform":[{"filter":"datum.gene==='VEGFA'"}],"mark":{"type":"tick","size":13,"thickness":2.5,"color":"black","opacity":1},
"encoding":{"x":{"field":"cond","type":"nominal","scale":{"domain":["Vehicle","Treha 100"],"paddingInner":0.29,"paddingOuter":0.13},"axis":null},
"xOffset":{"field":"slot","type":"nominal","scale":{"domain":["C1","C2","C3","g1","g2","g3","K1","K2","K3"],"paddingInner":0,"paddingOuter":1}},
"y":{"field":"upper","type":"quantitative","scale":{"domain":[0,6],"nice":false},"axis":{"values":[0,2,4,6],"title":"mRNA (Fold change)","labelFontWeight":"bold","labelFontSize":14,"titleFontSize":17,"titleFontWeight":"normal","titlePadding":16}}}},
{"data":{"name":"points"},"transform":[{"filter":"datum.gene==='VEGFA' && datum.grp==='Control siRNA'"}],"mark":{"type":"circle","color":"black","size":36,"opacity":1},
"encoding":{"x":{"field":"cond","type":"nominal","scale":{"domain":["Vehicle","Treha 100"],"paddingInner":0.29,"paddingOuter":0.13},"axis":null},
"xOffset":{"field":"slot","type":"nominal","scale":{"domain":["C1","C2","C3","g1","g2","g3","K1","K2","K3"],"paddingInner":0,"paddingOuter":1}},
"y":{"field":"val","type":"quantitative","scale":{"domain":[0,6],"nice":false},"axis":{"values":[0,2,4,6],"title":"mRNA (Fold change)","labelFontWeight":"bold","labelFontSize":14,"titleFontSize":17,"titleFontWeight":"normal","titlePadding":16}}}},
{"data":{"name":"points"},"transform":[{"filter":"datum.gene==='VEGFA' && datum.grp==='CDKN1A siRNA'"}],"mark":{"type":"square","color":"black","size":36,"opacity":1},
"encoding":{"x":{"field":"cond","type":"nominal","scale":{"domain":["Vehicle","Treha 100"],"paddingInner":0.29,"paddingOuter":0.13},"axis":null},
"xOffset":{"field":"slot","type":"nominal","scale":{"domain":["C1","C2","C3","g1","g2","g3","K1","K2","K3"],"paddingInner":0,"paddingOuter":1}},
"y":{"field":"val","type":"quantitative","scale":{"domain":[0,6],"nice":false},"axis":{"values":[0,2,4,6],"title":"mRNA (Fold change)","labelFontWeight":"bold","labelFontSize":14,"titleFontSize":17,"titleFontWeight":"normal","titlePadding":16}}}},
{"data":{"name":"ann"},"transform":[{"filter":"datum.gene==='VEGFA' && datum.kind==='line'"}],"mark":{"type":"tick","size":55,"thickness":2.5,"color":"black","opacity":1},
"encoding":{"x":{"field":"cond","type":"nominal","scale":{"domain":["Vehicle","Treha 100"],"paddingInner":0.29,"paddingOuter":0.13},"axis":null},
"y":{"field":"y","type":"quantitative","scale":{"domain":[0,6],"nice":false},"axis":{"values":[0,2,4,6],"title":"mRNA (Fold change)","labelFontWeight":"bold","labelFontSize":14,"titleFontSize":17,"titleFontWeight":"normal","titlePadding":16}}}},
{"data":{"name":"ann"},"transform":[{"filter":"datum.gene==='VEGFA' && datum.kind==='star'"}],"mark":{"type":"text","fontSize":17,"fontWeight":"bold","baseline":"alphabetic","dy":9.8,"font":"Liberation Sans","color":"black"},
"encoding":{"x":{"field":"cond","type":"nominal","scale":{"domain":["Vehicle","Treha 100"],"paddingInner":0.29,"paddingOuter":0.13},"axis":null},
"y":{"field":"y","type":"quantitative","scale":{"domain":[0,6],"nice":false},"axis":{"values":[0,2,4,6],"title":"mRNA (Fold change)","labelFontWeight":"bold","labelFontSize":14,"titleFontSize":17,"titleFontWeight":"normal","titlePadding":16}},"text":{"field":"label"}}},
{"data":{"name":"ann"},"transform":[{"filter":"datum.gene==='VEGFA' && datum.kind==='hash'"}],"mark":{"type":"text","fontSize":19,"baseline":"alphabetic","dy":6.6,"font":"Liberation Sans","color":"black"},
"encoding":{"x":{"field":"cond","type":"nominal","scale":{"domain":["Vehicle","Treha 100"],"paddingInner":0.29,"paddingOuter":0.13},"axis":{"orient":"top","title":"VEGFA","domain":false,"ticks":false,"labels":false,"titleFontSize":22,"titleFontWeight":"normal","titlePadding":20,"titleFont":"Liberation Sans","titleColor":"black"}},
"xOffset":{"field":"slot","type":"nominal","scale":{"domain":["C1","C2","C3","g1","g2","g3","K1","K2","K3"],"paddingInner":0,"paddingOuter":1}},
"y":{"field":"y","type":"quantitative","scale":{"domain":[0,6],"nice":false},"axis":{"values":[0,2,4,6],"title":"mRNA (Fold change)","labelFontWeight":"bold","labelFontSize":14,"titleFontSize":17,"titleFontWeight":"normal","titlePadding":16}},"text":{"field":"label"}}}
]},
{"width":183,"height":181,
"resolve":{"axis":{"x":"independent"}},
"encoding":{"x":{"field":"cond","type":"nominal","scale":{"domain":["Vehicle","Treha 100"],"paddingInner":0.29,"paddingOuter":0.13},"axis":{"title":null,"labelAngle":0}}},
"layer":[
{"data":{"name":"bars"},"transform":[{"filter":"datum.gene==='EREG'"}],"mark":{"type":"bar","width":20,"stroke":"black","strokeWidth":2.5},
"encoding":{"xOffset":{"field":"slot","type":"nominal","scale":{"domain":["C1","C2","C3","g1","g2","g3","K1","K2","K3"],"paddingInner":0,"paddingOuter":1}},
"y":{"field":"mean","type":"quantitative","scale":{"domain":[0,250],"nice":false},"axis":{"values":[0,50,100,150,200,250],"title":"mRNA (Fold change)","labelFontWeight":"bold","labelFontSize":14,"titleFontSize":17,"titleFontWeight":"normal","titlePadding":15}},
"fill":{"field":"grp","type":"nominal","scale":{"domain":["Control siRNA","CDKN1A siRNA"],"range":["#ffffff","#b3b3b3"]},"legend":{"orient":"none","legendX":17,"legendY":213,"title":null,"symbolType":"M-1.35,-0.68H1.35V0.68H-1.35Z","symbolSize":256}}}},
{"data":{"name":"bars"},"transform":[{"filter":"datum.gene==='EREG'"}],"mark":{"type":"bar","width":2.5,"color":"black"},
"encoding":{"x":{"field":"cond","type":"nominal","scale":{"domain":["Vehicle","Treha 100"],"paddingInner":0.29,"paddingOuter":0.13},"axis":null},
"xOffset":{"field":"slot","type":"nominal","scale":{"domain":["C1","C2","C3","g1","g2","g3","K1","K2","K3"],"paddingInner":0,"paddingOuter":1}},
"y":{"field":"mean","type":"quantitative","scale":{"domain":[0,250],"nice":false},"axis":{"values":[0,50,100,150,200,250],"title":"mRNA (Fold change)","labelFontWeight":"bold","labelFontSize":14,"titleFontSize":17,"titleFontWeight":"normal","titlePadding":15}},"y2":{"field":"upper"}}},
{"data":{"name":"bars"},"transform":[{"filter":"datum.gene==='EREG'"}],"mark":{"type":"tick","size":13,"thickness":2.5,"color":"black","opacity":1},
"encoding":{"x":{"field":"cond","type":"nominal","scale":{"domain":["Vehicle","Treha 100"],"paddingInner":0.29,"paddingOuter":0.13},"axis":null},
"xOffset":{"field":"slot","type":"nominal","scale":{"domain":["C1","C2","C3","g1","g2","g3","K1","K2","K3"],"paddingInner":0,"paddingOuter":1}},
"y":{"field":"upper","type":"quantitative","scale":{"domain":[0,250],"nice":false},"axis":{"values":[0,50,100,150,200,250],"title":"mRNA (Fold change)","labelFontWeight":"bold","labelFontSize":14,"titleFontSize":17,"titleFontWeight":"normal","titlePadding":15}}}},
{"data":{"name":"points"},"transform":[{"filter":"datum.gene==='EREG' && datum.grp==='Control siRNA'"}],"mark":{"type":"circle","color":"black","size":36,"opacity":1},
"encoding":{"x":{"field":"cond","type":"nominal","scale":{"domain":["Vehicle","Treha 100"],"paddingInner":0.29,"paddingOuter":0.13},"axis":null},
"xOffset":{"field":"slot","type":"nominal","scale":{"domain":["C1","C2","C3","g1","g2","g3","K1","K2","K3"],"paddingInner":0,"paddingOuter":1}},
"y":{"field":"val","type":"quantitative","scale":{"domain":[0,250],"nice":false},"axis":{"values":[0,50,100,150,200,250],"title":"mRNA (Fold change)","labelFontWeight":"bold","labelFontSize":14,"titleFontSize":17,"titleFontWeight":"normal","titlePadding":15}}}},
{"data":{"name":"points"},"transform":[{"filter":"datum.gene==='EREG' && datum.grp==='CDKN1A siRNA'"}],"mark":{"type":"square","color":"black","size":36,"opacity":1},
"encoding":{"x":{"field":"cond","type":"nominal","scale":{"domain":["Vehicle","Treha 100"],"paddingInner":0.29,"paddingOuter":0.13},"axis":null},
"xOffset":{"field":"slot","type":"nominal","scale":{"domain":["C1","C2","C3","g1","g2","g3","K1","K2","K3"],"paddingInner":0,"paddingOuter":1}},
"y":{"field":"val","type":"quantitative","scale":{"domain":[0,250],"nice":false},"axis":{"values":[0,50,100,150,200,250],"title":"mRNA (Fold change)","labelFontWeight":"bold","labelFontSize":14,"titleFontSize":17,"titleFontWeight":"normal","titlePadding":15}}}},
{"data":{"name":"ann"},"transform":[{"filter":"datum.gene==='EREG' && datum.kind==='line'"}],"mark":{"type":"tick","size":55,"thickness":2.5,"color":"black","opacity":1},
"encoding":{"x":{"field":"cond","type":"nominal","scale":{"domain":["Vehicle","Treha 100"],"paddingInner":0.29,"paddingOuter":0.13},"axis":null},
"y":{"field":"y","type":"quantitative","scale":{"domain":[0,250],"nice":false},"axis":{"values":[0,50,100,150,200,250],"title":"mRNA (Fold change)","labelFontWeight":"bold","labelFontSize":14,"titleFontSize":17,"titleFontWeight":"normal","titlePadding":15}}}},
{"data":{"name":"ann"},"transform":[{"filter":"datum.gene==='EREG' && datum.kind==='star'"}],"mark":{"type":"text","fontSize":17,"fontWeight":"bold","baseline":"alphabetic","dy":9.8,"font":"Liberation Sans","color":"black"},
"encoding":{"x":{"field":"cond","type":"nominal","scale":{"domain":["Vehicle","Treha 100"],"paddingInner":0.29,"paddingOuter":0.13},"axis":null},
"y":{"field":"y","type":"quantitative","scale":{"domain":[0,250],"nice":false},"axis":{"values":[0,50,100,150,200,250],"title":"mRNA (Fold change)","labelFontWeight":"bold","labelFontSize":14,"titleFontSize":17,"titleFontWeight":"normal","titlePadding":15}},"text":{"field":"label"}}},
{"data":{"name":"ann"},"transform":[{"filter":"datum.gene==='EREG' && datum.kind==='hash'"}],"mark":{"type":"text","fontSize":19,"baseline":"alphabetic","dy":6.6,"font":"Liberation Sans","color":"black"},
"encoding":{"x":{"field":"cond","type":"nominal","scale":{"domain":["Vehicle","Treha 100"],"paddingInner":0.29,"paddingOuter":0.13},"axis":{"orient":"top","title":"EREG","domain":false,"ticks":false,"labels":false,"titleFontSize":22,"titleFontWeight":"normal","titlePadding":20,"titleFont":"Liberation Sans","titleColor":"black"}},
"xOffset":{"field":"slot","type":"nominal","scale":{"domain":["C1","C2","C3","g1","g2","g3","K1","K2","K3"],"paddingInner":0,"paddingOuter":1}},
"y":{"field":"y","type":"quantitative","scale":{"domain":[0,250],"nice":false},"axis":{"values":[0,50,100,150,200,250],"title":"mRNA (Fold change)","labelFontWeight":"bold","labelFontSize":14,"titleFontSize":17,"titleFontWeight":"normal","titlePadding":15}},"text":{"field":"label"}}}
]},
{"width":183,"height":181,
"resolve":{"axis":{"x":"independent"}},
"encoding":{"x":{"field":"cond","type":"nominal","scale":{"domain":["Vehicle","Treha 100"],"paddingInner":0.29,"paddingOuter":0.13},"axis":{"title":null,"labelAngle":0}}},
"layer":[
{"data":{"name":"bars"},"transform":[{"filter":"datum.gene==='FGF2'"}],"mark":{"type":"bar","width":20,"stroke":"black","strokeWidth":2.5},
"encoding":{"xOffset":{"field":"slot","type":"nominal","scale":{"domain":["C1","C2","C3","g1","g2","g3","K1","K2","K3"],"paddingInner":0,"paddingOuter":1}},
"y":{"field":"mean","type":"quantitative","scale":{"domain":[0,10],"nice":false},"axis":{"values":[0,2,4,6,8,10],"title":"mRNA (Fold change)","labelFontWeight":"bold","labelFontSize":14,"titleFontSize":17,"titleFontWeight":"normal","titlePadding":14}},
"fill":{"field":"grp","type":"nominal","scale":{"domain":["Control siRNA","CDKN1A siRNA"],"range":["#ffffff","#b3b3b3"]},"legend":{"orient":"none","legendX":17,"legendY":213,"title":null,"symbolType":"M-1.35,-0.68H1.35V0.68H-1.35Z","symbolSize":256}}}},
{"data":{"name":"bars"},"transform":[{"filter":"datum.gene==='FGF2'"}],"mark":{"type":"bar","width":2.5,"color":"black"},
"encoding":{"x":{"field":"cond","type":"nominal","scale":{"domain":["Vehicle","Treha 100"],"paddingInner":0.29,"paddingOuter":0.13},"axis":null},
"xOffset":{"field":"slot","type":"nominal","scale":{"domain":["C1","C2","C3","g1","g2","g3","K1","K2","K3"],"paddingInner":0,"paddingOuter":1}},
"y":{"field":"mean","type":"quantitative","scale":{"domain":[0,10],"nice":false},"axis":{"values":[0,2,4,6,8,10],"title":"mRNA (Fold change)","labelFontWeight":"bold","labelFontSize":14,"titleFontSize":17,"titleFontWeight":"normal","titlePadding":14}},"y2":{"field":"upper"}}},
{"data":{"name":"bars"},"transform":[{"filter":"datum.gene==='FGF2'"}],"mark":{"type":"tick","size":13,"thickness":2.5,"color":"black","opacity":1},
"encoding":{"x":{"field":"cond","type":"nominal","scale":{"domain":["Vehicle","Treha 100"],"paddingInner":0.29,"paddingOuter":0.13},"axis":null},
"xOffset":{"field":"slot","type":"nominal","scale":{"domain":["C1","C2","C3","g1","g2","g3","K1","K2","K3"],"paddingInner":0,"paddingOuter":1}},
"y":{"field":"upper","type":"quantitative","scale":{"domain":[0,10],"nice":false},"axis":{"values":[0,2,4,6,8,10],"title":"mRNA (Fold change)","labelFontWeight":"bold","labelFontSize":14,"titleFontSize":17,"titleFontWeight":"normal","titlePadding":14}}}},
{"data":{"name":"points"},"transform":[{"filter":"datum.gene==='FGF2' && datum.grp==='Control siRNA'"}],"mark":{"type":"circle","color":"black","size":36,"opacity":1},
"encoding":{"x":{"field":"cond","type":"nominal","scale":{"domain":["Vehicle","Treha 100"],"paddingInner":0.29,"paddingOuter":0.13},"axis":null},
"xOffset":{"field":"slot","type":"nominal","scale":{"domain":["C1","C2","C3","g1","g2","g3","K1","K2","K3"],"paddingInner":0,"paddingOuter":1}},
"y":{"field":"val","type":"quantitative","scale":{"domain":[0,10],"nice":false},"axis":{"values":[0,2,4,6,8,10],"title":"mRNA (Fold change)","labelFontWeight":"bold","labelFontSize":14,"titleFontSize":17,"titleFontWeight":"normal","titlePadding":14}}}},
{"data":{"name":"points"},"transform":[{"filter":"datum.gene==='FGF2' && datum.grp==='CDKN1A siRNA'"}],"mark":{"type":"square","color":"black","size":36,"opacity":1},
"encoding":{"x":{"field":"cond","type":"nominal","scale":{"domain":["Vehicle","Treha 100"],"paddingInner":0.29,"paddingOuter":0.13},"axis":null},
"xOffset":{"field":"slot","type":"nominal","scale":{"domain":["C1","C2","C3","g1","g2","g3","K1","K2","K3"],"paddingInner":0,"paddingOuter":1}},
"y":{"field":"val","type":"quantitative","scale":{"domain":[0,10],"nice":false},"axis":{"values":[0,2,4,6,8,10],"title":"mRNA (Fold change)","labelFontWeight":"bold","labelFontSize":14,"titleFontSize":17,"titleFontWeight":"normal","titlePadding":14}}}},
{"data":{"name":"ann"},"transform":[{"filter":"datum.gene==='FGF2' && datum.kind==='line'"}],"mark":{"type":"tick","size":55,"thickness":2.5,"color":"black","opacity":1},
"encoding":{"x":{"field":"cond","type":"nominal","scale":{"domain":["Vehicle","Treha 100"],"paddingInner":0.29,"paddingOuter":0.13},"axis":null},
"y":{"field":"y","type":"quantitative","scale":{"domain":[0,10],"nice":false},"axis":{"values":[0,2,4,6,8,10],"title":"mRNA (Fold change)","labelFontWeight":"bold","labelFontSize":14,"titleFontSize":17,"titleFontWeight":"normal","titlePadding":14}}}},
{"data":{"name":"ann"},"transform":[{"filter":"datum.gene==='FGF2' && datum.kind==='star'"}],"mark":{"type":"text","fontSize":17,"fontWeight":"bold","baseline":"alphabetic","dy":9.8,"font":"Liberation Sans","color":"black"},
"encoding":{"x":{"field":"cond","type":"nominal","scale":{"domain":["Vehicle","Treha 100"],"paddingInner":0.29,"paddingOuter":0.13},"axis":null},
"y":{"field":"y","type":"quantitative","scale":{"domain":[0,10],"nice":false},"axis":{"values":[0,2,4,6,8,10],"title":"mRNA (Fold change)","labelFontWeight":"bold","labelFontSize":14,"titleFontSize":17,"titleFontWeight":"normal","titlePadding":14}},"text":{"field":"label"}}},
{"data":{"name":"ann"},"transform":[{"filter":"datum.gene==='FGF2' && datum.kind==='hash'"}],"mark":{"type":"text","fontSize":19,"baseline":"alphabetic","dy":6.6,"font":"Liberation Sans","color":"black"},
"encoding":{"x":{"field":"cond","type":"nominal","scale":{"domain":["Vehicle","Treha 100"],"paddingInner":0.29,"paddingOuter":0.13},"axis":{"orient":"top","title":"FGF2","domain":false,"ticks":false,"labels":false,"titleFontSize":22,"titleFontWeight":"normal","titlePadding":20,"titleFont":"Liberation Sans","titleColor":"black"}},
"xOffset":{"field":"slot","type":"nominal","scale":{"domain":["C1","C2","C3","g1","g2","g3","K1","K2","K3"],"paddingInner":0,"paddingOuter":1}},
"y":{"field":"y","type":"quantitative","scale":{"domain":[0,10],"nice":false},"axis":{"values":[0,2,4,6,8,10],"title":"mRNA (Fold change)","labelFontWeight":"bold","labelFontSize":14,"titleFontSize":17,"titleFontWeight":"normal","titlePadding":14}},"text":{"field":"label"}}}
]}
]}
],
"config":{
"font":"Liberation Sans",
"view":{"stroke":null},
"axis":{"domainColor":"black","domainWidth":2,"tickColor":"black","tickWidth":2,"labelColor":"black","titleColor":"black","grid":false,"labelFont":"Liberation Sans","titleFont":"Liberation Sans"},
"axisY":{"labelFontSize":14,"labelFontWeight":"bold","tickSize":6,"labelPadding":2,"titleFontSize":17,"titleFontWeight":"normal"},
"axisX":{"labelFontSize":14,"labelFontWeight":"normal","tickSize":6,"labelPadding":4,"labelAngle":0},
"legend":{"symbolStrokeColor":"black","symbolStrokeWidth":2.5,"labelFont":"Liberation Sans","labelFontSize":15,"labelColor":"black","labelOffset":12}
}
}
